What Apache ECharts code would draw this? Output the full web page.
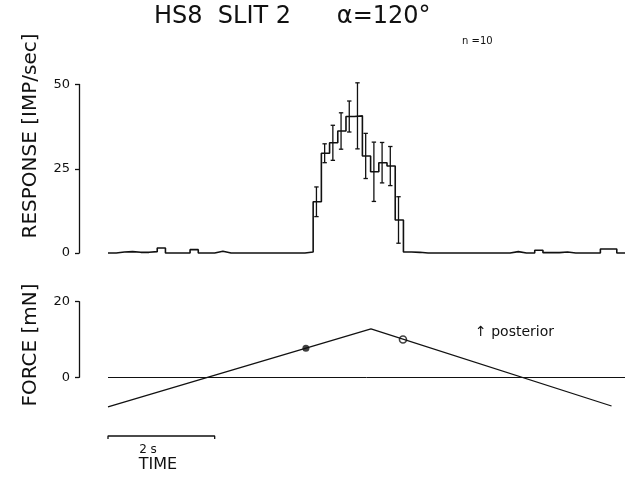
<!DOCTYPE html>
<html>
<head>
<meta charset="utf-8">
<script src="https://cdn.jsdelivr.net/npm/echarts@6/dist/echarts.min.js"></script>
<style>
  html, body { margin: 0; padding: 0; background: #fff; }
  #chart { width: 626px; height: 483px; }
</style>
</head>
<body>
<div id="chart"></div>
<script>
// Peristimulus histogram bin width (s)
const BIN_WIDTH = 2 / 13;

// Mean discharge rate per bin (imp/s), before, during and after the response
const spontaneousBefore = [0, 0.3, 0.4, 0.2, 0.2, 0.4, 1.5, 0, 0, 0, 1, 0, 0, 0.5,
  0, 0, 0, 0, 0, 0, 0, 0, 0, 0, 0.3];
const responseBins = [15.2, 29.6, 32.7, 36.2, 40.5, 40.7, 28.8, 24.1, 26.8, 25.8, 9.8];
const responseSD   = [4.4, 2.8, 5.2, 5.4, 4.6, 9.8, 6.7, 8.8, 6.0, 5.8, 6.9];
const spontaneousAfter = [0.3, 0.2, 0, 0, 0, 0, 0, 0, 0, 0, 0, 0, 0, 0.4, 0, 0,
  0.8, 0.1, 0.1, 0.3, 0, 0, 0, 0, 1.2, 1.2, 0];

// Force ramp (mN) at its turning points
const forceTimes  = [0, 4.93, 9.44];
const forceValues = [-7.8, 12.8, -7.6];
// Force at response onset (filled) and offset (open)
const onsetPoint  = [3.71, 7.7];
const offsetPoint = [5.53, 10.0];

const responseTicks = [0, 50, 25];      // min, max, interval
const forceTicks    = [0, 20, 20];
const scaleBarSeconds = 2;

const rate = spontaneousBefore.concat(responseBins, spontaneousAfter);
const firstResponseBin = spontaneousBefore.length;
const X_MAX = rate.length * BIN_WIDTH;

const stepData = rate.map((v, i) => [i * BIN_WIDTH, v]);
stepData.push([rate.length * BIN_WIDTH, rate[rate.length - 1]]);

const errorData = responseBins.map((v, i) => [
  (firstResponseBin + i + 0.4) * BIN_WIDTH, v - responseSD[i], v + responseSD[i]
]);

const forceData = forceTimes.map((t, i) => [t, forceValues[i]]);

const INK = '#111';
const FONT = '"DejaVu Sans", "Liberation Sans", sans-serif';

const hiddenX = (gridIndex) => ({
  type: 'value', gridIndex, min: 0, max: X_MAX, show: false
});

const visibleY = (gridIndex, ticks) => ({
  type: 'value', gridIndex,
  min: ticks[0], max: ticks[1], interval: ticks[2],
  axisLine: { show: true, lineStyle: { color: INK, width: 1.3 } },
  axisTick: { show: true, inside: false, length: 4, lineStyle: { color: INK, width: 1.3 } },
  axisLabel: { color: INK, fontSize: 13, fontFamily: FONT, margin: 9 },
  splitLine: { show: false }
});

const chart = echarts.init(document.getElementById('chart'), null, { renderer: 'canvas' });

chart.setOption({
  animation: false,
  backgroundColor: '#fff',
  grid: [
    { left: 79, width: 546, top: 84.5, height: 168.5 },    // response axis
    { left: 108, width: 517, top: 84.5, height: 168.5 },   // response data
    { left: 79, width: 546, top: 301.7, height: 75.6 },    // force axis (0..20)
    { left: 108, width: 517, top: 301.7, height: 107.7 },  // force data (-8.5..20)
    { left: 108, width: 517, top: 436, height: 3 }          // time scale bar
  ],
  xAxis: [hiddenX(0), hiddenX(1), hiddenX(2), hiddenX(3), hiddenX(4)],
  yAxis: [
    visibleY(0, responseTicks),
    { type: 'value', gridIndex: 1, min: responseTicks[0], max: responseTicks[1], show: false },
    visibleY(2, forceTicks),
    { type: 'value', gridIndex: 3, min: -8.5, max: 20, show: false },
    { type: 'value', gridIndex: 4, min: -1, max: 0, show: false }
  ],
  series: [
    {
      name: 'rate', type: 'line', xAxisIndex: 1, yAxisIndex: 1,
      data: stepData, step: 'end', showSymbol: false, clip: false,
      lineStyle: { color: INK, width: 1.6 }
    },
    {
      name: 'sd', type: 'custom', xAxisIndex: 1, yAxisIndex: 1,
      data: errorData, encode: { x: 0, y: [1, 2] }, clip: false,
      renderItem: (params, api) => {
        const x = api.value(0);
        const lo = api.coord([x, api.value(1)]);
        const hi = api.coord([x, api.value(2)]);
        const cap = 2.2;
        const st = { stroke: INK, lineWidth: 1.3 };
        return {
          type: 'group',
          children: [
            { type: 'line', shape: { x1: lo[0], y1: lo[1], x2: hi[0], y2: hi[1] }, style: st },
            { type: 'line', shape: { x1: lo[0] - cap, y1: lo[1], x2: lo[0] + cap, y2: lo[1] }, style: st },
            { type: 'line', shape: { x1: hi[0] - cap, y1: hi[1], x2: hi[0] + cap, y2: hi[1] }, style: st }
          ]
        };
      }
    },
    {
      name: 'force', type: 'line', xAxisIndex: 3, yAxisIndex: 3,
      data: forceData, showSymbol: false, clip: false,
      lineStyle: { color: INK, width: 1.3 },
      markLine: {
        silent: true, symbol: 'none', animation: false,
        label: { show: false },
        lineStyle: { color: INK, width: 1, type: 'solid' },
        data: [{ yAxis: 0 }]
      }
    },
    {
      name: 'onset', type: 'scatter', xAxisIndex: 3, yAxisIndex: 3,
      data: [onsetPoint], symbol: 'circle', symbolSize: 7,
      itemStyle: { color: INK }
    },
    {
      name: 'offset', type: 'scatter', xAxisIndex: 3, yAxisIndex: 3,
      data: [offsetPoint], symbol: 'circle', symbolSize: 7,
      itemStyle: { color: '#fff', borderColor: INK, borderWidth: 1.6 }
    },
    {
      name: 'scale', type: 'line', xAxisIndex: 4, yAxisIndex: 4,
      data: [[0, -1], [0, 0], [scaleBarSeconds, 0], [scaleBarSeconds, -1]],
      showSymbol: false, clip: false,
      lineStyle: { color: INK, width: 1.3 }
    }
  ],
  graphic: [
    {
      type: 'text', left: 154, top: 5,
      style: { text: 'HS8  SLIT 2      \u03B1=120\u00B0', font: '24px ' + FONT, fill: INK }
    },
    {
      type: 'text', left: 462, top: 36,
      style: { text: 'n =10', font: '10px ' + FONT, fill: INK }
    },
    {
      type: 'text', x: 31, y: 136, rotation: Math.PI / 2,
      style: { text: 'RESPONSE [IMP/sec]', font: '20px ' + FONT, fill: INK, align: 'center', verticalAlign: 'middle' }
    },
    {
      type: 'text', x: 31, y: 345, rotation: Math.PI / 2,
      style: { text: 'FORCE [mN]', font: '20px ' + FONT, fill: INK, align: 'center', verticalAlign: 'middle' }
    },
    {
      type: 'text', left: 475, top: 325,
      style: { text: '\u2191 posterior', font: '14px ' + FONT, fill: INK }
    },
    {
      type: 'text', x: 148, y: 450,
      style: { text: scaleBarSeconds + ' s', font: '12px ' + FONT, fill: INK, align: 'center', verticalAlign: 'middle' }
    },
    {
      type: 'text', x: 158, y: 465,
      style: { text: 'TIME', font: '16px ' + FONT, fill: INK, align: 'center', verticalAlign: 'middle' }
    }
  ]
});
</script>
</body>
</html>
